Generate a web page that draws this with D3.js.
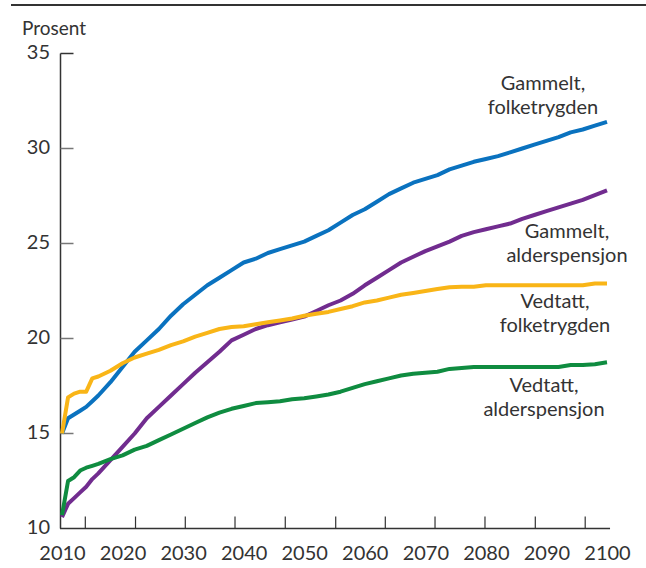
<!DOCTYPE html>
<html>
<head>
<meta charset="utf-8">
<script src="https://cdn.jsdelivr.net/npm/d3@7"></script>
<style>
  html, body { margin: 0; padding: 0; background: #fff; }
  svg { display: block; }
  text { font-family: Lato, "Open Sans", sans-serif; fill: #333; }
</style>
</head>
<body>
<svg id="chart" width="646" height="568"></svg>
<script>
// ---- Data ----
const years = [2010, 2011, 2012, 2013, 2014, 2015, 2016, 2018, 2020, 2022, 2024, 2026, 2028, 2030,
  2032, 2034, 2036, 2038, 2040, 2042, 2044, 2046, 2048, 2050, 2052, 2054, 2056, 2058, 2060,
  2062, 2064, 2066, 2068, 2070, 2072, 2074, 2076, 2078, 2080, 2082, 2084, 2086, 2088, 2090,
  2092, 2094, 2096, 2098, 2100];

const gammeltFolketrygden = [15.0, 15.8, 16.0, 16.2, 16.4, 16.7, 17.0, 17.7, 18.5, 19.3, 19.9, 20.5, 21.2, 21.8,
  22.3, 22.8, 23.2, 23.6, 24.0, 24.2, 24.5, 24.7, 24.9, 25.1, 25.4, 25.7, 26.1, 26.5, 26.8,
  27.2, 27.6, 27.9, 28.2, 28.4, 28.6, 28.9, 29.1, 29.3, 29.45, 29.6, 29.8, 30.0, 30.2, 30.4,
  30.6, 30.85, 31.0, 31.2, 31.4];

const gammeltAlderspensjon = [10.6, 11.3, 11.6, 11.9, 12.2, 12.6, 12.9, 13.6, 14.3, 15.0, 15.8, 16.4, 17.0, 17.6,
  18.2, 18.75, 19.3, 19.9, 20.2, 20.5, 20.7, 20.85, 21.0, 21.15, 21.45, 21.75, 22.0, 22.35, 22.8,
  23.2, 23.6, 24.0, 24.3, 24.6, 24.85, 25.1, 25.4, 25.6, 25.75, 25.9, 26.05, 26.3, 26.5, 26.7,
  26.9, 27.1, 27.3, 27.55, 27.8];

const vedtattFolketrygden = [15.0, 16.9, 17.1, 17.2, 17.2, 17.9, 18.0, 18.3, 18.7, 19.0, 19.2, 19.4, 19.65, 19.85,
  20.1, 20.3, 20.5, 20.6, 20.65, 20.75, 20.85, 20.95, 21.05, 21.2, 21.3, 21.4, 21.55, 21.7, 21.9,
  22.0, 22.15, 22.3, 22.4, 22.5, 22.6, 22.7, 22.72, 22.72, 22.8, 22.8, 22.8, 22.8, 22.8, 22.8,
  22.8, 22.8, 22.8, 22.9, 22.9];

const vedtattAlderspensjon = [10.7, 12.5, 12.7, 13.05, 13.2, 13.3, 13.4, 13.65, 13.85, 14.15, 14.35, 14.65, 14.95, 15.25,
  15.55, 15.85, 16.1, 16.3, 16.45, 16.6, 16.65, 16.7, 16.8, 16.85, 16.95, 17.05, 17.2, 17.4, 17.6,
  17.75, 17.9, 18.05, 18.15, 18.2, 18.25, 18.4, 18.45, 18.5, 18.5, 18.5, 18.5, 18.5, 18.5, 18.5,
  18.5, 18.6, 18.6, 18.65, 18.75];

const seriesNames = ["Gammelt, folketrygden", "Gammelt, alderspensjon", "Vedtatt, folketrygden", "Vedtatt, alderspensjon"];
const seriesValues = [gammeltFolketrygden, gammeltAlderspensjon, vedtattFolketrygden, vedtattAlderspensjon];
const seriesColors = ["#0a72bf", "#712c8f", "#f9b517", "#0f8c40"];

const yTicks = [10, 15, 20, 25, 30, 35];
const xLabelYears = [2010, 2020, 2030, 2040, 2050, 2060, 2070, 2080, 2090, 2100];
const xTickYears = [2013.85, 2022.14, 2030.36, 2038.57, 2046.87, 2055.2, 2063.39, 2071.6, 2079.85, 2088.16, 2096.4];
const yAxisTitle = "Prosent";

// label text lines and positions (annotations)
const labelLines = [
  ["Gammelt,", "folketrygden"],
  ["Gammelt,", "alderspensjon"],
  ["Vedtatt,", "folketrygden"],
  ["Vedtatt,", "alderspensjon"]
];
const labelPos = [[543, 90], [567, 238], [555, 308], [544, 392]];

// ---- Chart ----
const svg = d3.select("#chart");
const x = d3.scaleLinear().domain([2010, 2100]).range([62, 607]);
const y = d3.scaleLinear().domain([10, 35]).range([528.5, 53.5]);

// top rule
svg.append("line").attr("x1", 11).attr("x2", 646).attr("y1", 5).attr("y2", 5)
  .attr("stroke", "#333").attr("stroke-width", 2);

// y axis title
svg.append("text").attr("x", 22).attr("y", 34.5).attr("font-size", 19).text(yAxisTitle);

// y axis
const yAxisG = svg.append("g").attr("transform", "translate(60.5,0)");
yAxisG.append("line").attr("x1", 0).attr("x2", 0).attr("y1", y(35)).attr("y2", y(10))
  .attr("stroke", "#333").attr("stroke-width", 1.5);
yAxisG.selectAll("line.tick").data(yTicks.filter(d => d > 10)).join("line")
  .attr("class", "tick").attr("x1", 0).attr("x2", 13)
  .attr("y1", d => y(d)).attr("y2", d => y(d))
  .attr("stroke", d => d === 35 ? "#333" : "#777").attr("stroke-width", 1.5);
svg.selectAll("text.ylab").data(yTicks).join("text")
  .attr("class", "ylab").attr("x", 50).attr("y", d => y(d) + 5)
  .attr("text-anchor", "end").attr("font-size", 20).text(d => d);

// x axis
const xAxisG = svg.append("g");
xAxisG.append("line").attr("x1", 60).attr("x2", x(2100.5)).attr("y1", y(10)).attr("y2", y(10))
  .attr("stroke", "#333").attr("stroke-width", 1.5);
xAxisG.selectAll("line.tick").data(xTickYears).join("line")
  .attr("class", "tick").attr("x1", d => x(d)).attr("x2", d => x(d))
  .attr("y1", y(10)).attr("y2", y(10) - 12)
  .attr("stroke", "#333").attr("stroke-width", 1.2);
svg.selectAll("text.xlab").data(xLabelYears).join("text")
  .attr("class", "xlab").attr("x", d => x(d) + 0.5).attr("y", 560)
  .attr("text-anchor", "middle").attr("font-size", 20).text(d => d);

// lines
const line = d3.line().x((d, i) => x(years[i])).y(d => y(d));
svg.selectAll("path.series").data(seriesValues).join("path")
  .attr("class", "series")
  .attr("d", d => line(d))
  .attr("fill", "none")
  .attr("stroke", (d, i) => seriesColors[i])
  .attr("stroke-width", 4)
  .attr("stroke-linejoin", "round");

// labels
labelLines.forEach((lines, i) => {
  const t = svg.append("text").attr("text-anchor", "middle").attr("font-size", 20)
    .attr("x", labelPos[i][0]).attr("y", labelPos[i][1]);
  lines.forEach((s, j) => {
    t.append("tspan").attr("x", labelPos[i][0]).attr("dy", j === 0 ? 0 : 24).text(s);
  });
});
</script>
</body>
</html>
